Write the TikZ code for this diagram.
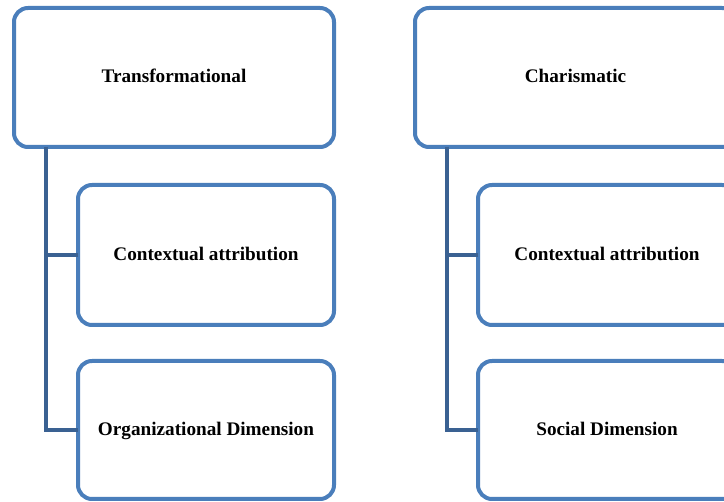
\documentclass[tikz,border=0pt]{standalone}
\usepackage{fontspec}
\setmainfont{Liberation Serif}
\definecolor{boxblue}{HTML}{4A7EBB}
\definecolor{linkblue}{HTML}{3A6192}
\begin{document}
\begin{tikzpicture}[x=1pt,y=-1pt,
  box/.style={draw=boxblue, line width=4pt, rounded corners=14pt, fill=white,
    inner sep=0pt, outer sep=0pt, text height=14.5pt, text depth=4pt,
    font=\fontsize{19.2}{22}\selectfont\bfseries},
  conn/.style={draw=linkblue, line width=3.5pt}]
\useasboundingbox (0,0) rectangle (724,502);
\clip (0,0) rectangle (724,502);
% left column
\node[box, minimum width=320pt, minimum height=139pt] (T) at (174,77.5) {Transformational};
\node[box, minimum width=256pt, minimum height=140pt] (LC) at (206,255) {Contextual attribution};
\node[box, minimum width=256pt, minimum height=138pt] (LO) at (206,430) {Organizational Dimension};
\coordinate (lv) at (46,0);
\draw[conn] (T.south -| lv) |- (LO.west);
\draw[conn] (lv |- LC.west) -- (LC.west);
% right column
\node[box, minimum width=321pt, minimum height=139pt] (C) at (575.5,77.5) {Charismatic};
\node[box, minimum width=258pt, minimum height=140pt] (RC) at (607,255) {Contextual attribution};
\node[box, minimum width=258pt, minimum height=138pt] (RS) at (607,430) {Social Dimension};
\coordinate (rv) at (447,0);
\draw[conn] (C.south -| rv) |- (RS.west);
\draw[conn] (rv |- RC.west) -- (RC.west);
\end{tikzpicture}
\end{document}
